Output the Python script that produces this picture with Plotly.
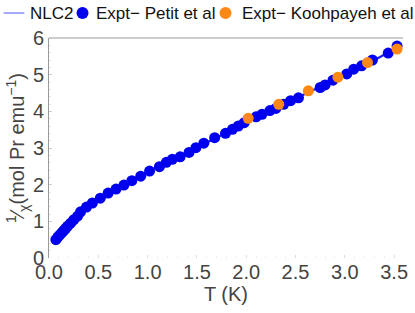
import plotly.graph_objects as go

# NLC2 model curve
nlc_t = [0.04, 0.10, 0.20, 0.30, 0.40, 0.50, 0.75, 1.00, 1.25, 1.50, 1.75, 2.00, 2.25, 2.50, 2.75, 3.00, 3.25, 3.55]
nlc_y = [0.43, 0.62, 0.92, 1.18, 1.41, 1.60, 1.99, 2.35, 2.69, 3.02, 3.35, 3.70, 4.03, 4.35, 4.67, 5.00, 5.33, 5.77]

# Expt - Petit et al
petit_t = [0.07, 0.09, 0.11, 0.13, 0.15, 0.17, 0.19, 0.22, 0.25, 0.29, 0.32, 0.38, 0.44, 0.52,
           0.60, 0.68, 0.76, 0.84, 0.93, 1.02, 1.12, 1.19, 1.25, 1.33, 1.42, 1.49, 1.57, 1.68,
           1.79, 1.86, 1.92, 1.98, 2.10, 2.16, 2.24, 2.30, 2.38, 2.45, 2.53, 2.75, 2.80, 2.88,
           3.02, 3.09, 3.17, 3.28, 3.44, 3.53]
petit_y = [0.50, 0.57, 0.63, 0.69, 0.75, 0.81, 0.87, 0.95, 1.04, 1.14, 1.26, 1.39, 1.50, 1.63,
           1.77, 1.88, 1.99, 2.11, 2.23, 2.37, 2.49, 2.61, 2.69, 2.76, 2.88, 3.01, 3.13, 3.28,
           3.40, 3.51, 3.60, 3.69, 3.85, 3.92, 4.02, 4.08, 4.19, 4.29, 4.37, 4.65, 4.72, 4.85,
           5.02, 5.15, 5.24, 5.40, 5.59, 5.78]

# Expt - Koohpayeh et al
kooh_t = [2.02, 2.33, 2.63, 2.93, 3.23, 3.53]
kooh_y = [3.81, 4.19, 4.56, 4.93, 5.33, 5.70]

x_ticks = [0.0, 0.5, 1.0, 1.5, 2.0, 2.5, 3.0, 3.5]
y_ticks = [0, 1, 2, 3, 4, 5, 6]

legend_names = ["NLC2", "Expt\u2212 Petit et al", "Expt\u2212 Koohpayeh et al"]

LINE_C = "rgb(30,30,240)"
BLUE = "rgb(0,0,238)"
ORANGE = "rgb(255,136,20)"

fig = go.Figure()
fig.add_trace(go.Scatter(x=nlc_t, y=nlc_y, mode="lines", name=legend_names[0],
                         line=dict(color=LINE_C, width=2.2, shape="spline")))
fig.add_trace(go.Scatter(x=petit_t, y=petit_y, mode="markers", name=legend_names[1],
                         marker=dict(color=BLUE, size=11)))
fig.add_trace(go.Scatter(x=kooh_t, y=kooh_y, mode="markers", name=legend_names[2],
                         marker=dict(color=ORANGE, size=11)))

W, H = 415, 313
L, R, T, B = 49, 7, 38, 55
pw, ph = W - L - R, H - T - B


def px_x(px):
    return (px - L) / pw


def px_y(py):
    return (H - B - py) / ph


gray = "#999999"
leg_y = 13
shapes = [
    dict(type="line", xref="paper", yref="paper", x0=0, x1=1, y0=1, y1=1,
         line=dict(color=gray, width=1)),
    dict(type="line", xref="paper", yref="paper", x0=px_x(3), x1=px_x(24),
         y0=px_y(leg_y), y1=px_y(leg_y), line=dict(color="rgb(110,110,250)", width=1.2)),
    dict(type="circle", xref="paper", yref="paper", xsizemode="pixel", ysizemode="pixel",
         xanchor=px_x(83), yanchor=px_y(leg_y), x0=-6, x1=6, y0=-6, y1=6,
         fillcolor=BLUE, line=dict(width=0)),
    dict(type="circle", xref="paper", yref="paper", xsizemode="pixel", ysizemode="pixel",
         xanchor=px_x(228), yanchor=px_y(leg_y), x0=-6, x1=6, y0=-6, y1=6,
         fillcolor=ORANGE, line=dict(width=0)),
]
annotations = [
    dict(text=legend_names[0], xref="paper", yref="paper", x=px_x(28), y=px_y(leg_y),
         xanchor="left", yanchor="middle", showarrow=False, font=dict(size=17, color="#111111")),
    dict(text=legend_names[1], xref="paper", yref="paper", x=px_x(95), y=px_y(leg_y),
         xanchor="left", yanchor="middle", showarrow=False, font=dict(size=17, color="#111111")),
    dict(text=legend_names[2], xref="paper", yref="paper", x=px_x(243), y=px_y(leg_y),
         xanchor="left", yanchor="middle", showarrow=False, font=dict(size=17, color="#111111")),
]

fig.update_layout(
    width=W, height=H,
    margin=dict(l=L, r=R, t=T, b=B),
    plot_bgcolor="white", paper_bgcolor="white",
    font=dict(family="Liberation Sans, Arial, sans-serif", color="#444444", size=20),
    showlegend=False,
    xaxis=dict(range=[0, 3.59], tickvals=x_ticks, ticktext=[f"{v:.1f}" for v in x_ticks],
               showgrid=False, zeroline=False, showline=False,
               ticks="inside", ticklen=3, tickcolor="#dddddd",
               minor=dict(ticks="inside", ticklen=2, tickcolor="#eeeeee", dtick=0.1),
               title=dict(text="T (K)", standoff=0, font=dict(size=20))),
    yaxis=dict(range=[0, 6], tickvals=y_ticks, showgrid=False, zeroline=False,
               showline=True, linecolor=gray, linewidth=1,
               ticks="inside", ticklen=3, tickcolor="#cccccc",
               minor=dict(ticks="inside", ticklen=2, tickcolor="#e5e5e5", dtick=0.2),
               title=dict(text="<sup>1</sup>\u2044<sub>\u03c7</sub>(mol Pr emu<sup>\u22121</sup>)",
                          standoff=2, font=dict(size=20))),
    shapes=shapes,
    annotations=annotations,
)

fig.write_html("out.html", config={"displayModeBar": False},
               post_script="document.body.style.margin='0px';document.body.style.overflow='hidden';")
